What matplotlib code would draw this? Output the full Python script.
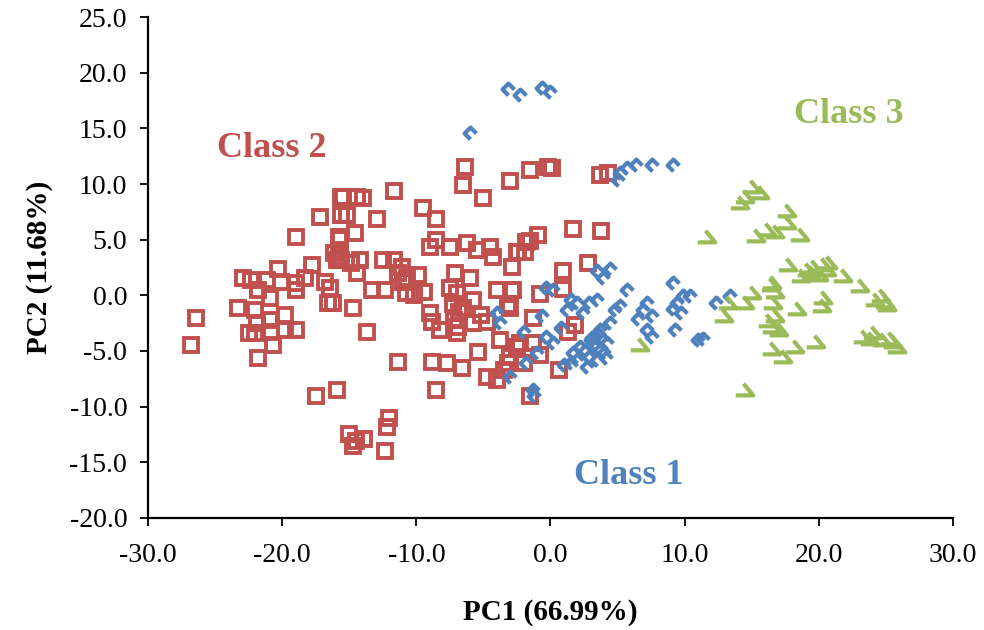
import numpy as np
import matplotlib
matplotlib.use("Agg")
import matplotlib.pyplot as plt
from matplotlib.path import Path
from matplotlib.markers import MarkerStyle

plt.rcParams["font.family"] = "serif"
plt.rcParams["font.serif"] = ["Liberation Serif", "DejaVu Serif"]

# ---- data ----
class2_x = [-15.6, -17.2, -19.0, -15.6, -15.7, -15.8, -17.8, -20.3, -22.9, -22.3,
            -21.8, -21.1, -20.1, -19.0, -19.0, -18.3, -16.8, -16.6, -23.3, -22.0,
            -20.9, -19.8, -20.9, -21.9, -22.5, -22.0, -20.8, -19.8, -19.0, -20.7,
            -21.8, -26.4, -26.8, -15.6, -16.1,
            -6.4, -6.5, -3.0, -1.5, -5.0, -11.7, -15.5, -14.4, -14.0, -15.2,
            -12.9, -9.5, -8.5, -15.8, -14.6, -15.7, -15.9, -14.9, -14.2, -14.4,
            -12.5, -11.7, -11.1, -11.4, -10.7, -9.9, -9.0, -8.5, -7.5, -6.2,
            -5.5, -4.5, -4.3, -2.9, -2.5, -1.8, -7.1, -6.0, -7.5, -7.0,
            -5.8, -4.0, -2.9, -3.0, -13.3, -12.3, -10.8, -9.4, -16.4, -16.2,
            -14.7, -9.0, -8.8, -8.2, -7.0, -5.8, -4.7, -6.5, -13.7, -11.4,
            -8.8, -7.7, -6.6, -5.4, -4.7, -3.2, -2.5, -4.0, -15.9, -8.5,
            -0.2, 0.1, 3.7, 4.3, 1.7, 3.8, -0.9, -1.5, -2.4, -1.9,
            2.8, 0.9, 0.9, -2.8, -0.8, -3.2, -1.3, 1.8, 1.3, -2.3,
            -1.3, -3.0, -2.0, -0.8, 0.6, -1.5, -3.5,
            -17.5, -15.0, -14.5, -13.9, -14.7, -12.0, -12.2, -12.3,
            -7.3, -6.8, -7.2, -6.9, -5.2, -3.8, -10.2, -11.0]
class2_y = [8.8, 7.0, 5.2, 7.2, 5.1, 3.4, 2.7, 2.4, 1.6, 1.4,
            0.5, 1.4, 1.2, 1.1, 0.5, 1.6, 1.2, -0.7, -1.1, -1.3,
            -0.2, -1.8, -2.2, -2.5, -3.4, -3.4, -3.3, -3.1, -3.1, -4.5,
            -5.6, -2.0, -4.5, 3.2, 3.8,
            11.5, 9.9, 10.3, 11.3, 8.7, 9.4, 8.8, 8.8, 8.7, 7.2,
            6.9, 7.8, 6.9, 5.2, 5.6, 4.1, 3.2, 2.9, 3.2, 2.0,
            3.2, 3.2, 2.5, 2.0, 1.6, 1.8, 4.3, 5.0, 4.3, 4.7,
            4.1, 4.3, 3.4, 2.5, 3.9, 4.8, 2.0, 1.6, 0.7, 0.2,
            -0.4, 0.5, 0.5, -1.1, 0.5, 0.5, 0.2, 0.3, 0.7, -0.7,
            -1.1, -1.6, -2.4, -3.1, -3.4, -2.5, -2.4, -1.1, -3.3, -6.0,
            -6.0, -6.1, -6.5, -5.1, -7.3, -6.1, -4.6, -7.6, -8.5, -8.5,
            11.5, 11.4, 10.8, 11.0, 6.0, 5.8, 5.4, 4.9, 3.9, 3.9,
            2.9, 2.2, 0.6, 0.5, 0.1, -0.9, -2.0, -2.7, -3.3, -4.3,
            -4.3, -5.5, -6.1, -5.4, -6.7, -9.0, -6.7,
            -9.0, -12.5, -13.1, -12.9, -13.5, -11.0, -11.8, -14.0,
            -0.8, -1.5, -2.2, -2.8, -1.8, -4.0, 0.0, 1.2]

class1_x = [-3.2, -2.3, -0.6, 0.0, -6.0, 5.2, 5.7, 6.4, 7.6, 9.1,
            5.0, 3.5, 4.4, 3.9, 9.1, 9.9, 9.4, 9.1, 9.7, 9.3,
            11.0, 5.7, 7.2, 6.9, 7.6, 6.5, 7.2, 7.6, 4.8, 5.2,
            4.4, 3.7, 3.2, 3.7, 2.9, 3.5, 2.7, 4.2, 2.2, 2.0,
            3.5, 2.9, 1.5, 2.0, 1.2, 2.4, -0.3, 0.2, -0.6, -0.3,
            0.2, -1.0, -1.8, 1.5, 1.7, -1.3, -1.2, -4.0, -3.8, -3.0,
            10.4, 12.3, 13.4, 11.4, 3.0, 3.3, 4.0, 3.6, 2.6, 3.9,
            0.8, -2.0, 1.0, 4.1, 3.1]
class1_y = [18.5, 18.0, 18.6, 18.3, 14.6, 11.0, 11.4, 11.7, 11.7, 11.7,
            10.4, 2.2, 2.4, 1.6, 1.1, -0.1, -0.7, -1.2, -1.6, -3.1,
            -4.0, 0.5, -0.7, -1.3, -1.9, -2.1, -3.1, -3.7, -1.3, -1.0,
            -2.5, -3.1, -4.3, -4.9, -5.5, -5.8, -6.4, -4.3, -4.6, -5.8,
            -0.4, -0.7, -0.4, -0.7, -1.3, -1.6, 0.7, 0.5, -1.9, -3.7,
            -4.3, -5.2, -6.1, -6.1, -5.2, -8.5, -9.0, -1.6, -2.5, -7.3,
            -0.1, -0.7, -0.1, -3.9, -4.0, -4.6, -5.2, -3.6, -5.0, -4.0,
            -2.9, -3.3, -6.3, -5.6, -3.8]

class3_x = [15.0, 14.5, 14.1, 15.6, 17.6, 17.6, 16.1, 16.7, 18.6, 11.7,
            17.7, 19.1, 19.6, 20.3, 20.7, 18.7, 21.8, 23.1, 24.6, 24.9,
            16.5, 16.7, 15.0, 14.5, 13.2, 12.9, 16.6, 16.7, 16.5, 17.0,
            18.4, 20.3, 20.2, 19.8, 16.5, 17.3, 18.2, 23.3, 23.8, 24.7,
            25.3, 25.8, 14.5, 6.7, 19.4, 20.0, 16.2, 24.2, 25.5, 16.4,
            15.3, 24.0, 25.1, 20.6]
class3_y = [9.7, 8.8, 8.3, 9.2, 7.6, 6.5, 5.9, 5.7, 5.4, 5.2,
            2.7, 2.3, 2.5, 2.7, 2.9, 1.7, 1.7, 0.8, -0.1, -0.6,
            1.1, 0.3, 0.2, -0.7, -0.7, -1.9, -0.7, -1.9, -2.8, -3.1,
            -1.2, -0.2, -1.0, -4.2, -4.8, -5.5, -4.6, -3.7, -3.9, -4.0,
            -3.9, -4.6, -8.5, -4.5, 2.0, 1.8, -2.3, -0.4, -4.2, 0.9,
            5.3, -3.4, -0.9, 2.3]

RED = "#C0504D"
BLUE = "#4F81BD"
GREEN = "#9BBB59"

# open diamond missing its lower-right edge, and the green "check" glyph
diamond_path = Path([(1, 0), (0, 1), (-1, 0), (0, -1)])
check_path = Path([(-0.1, 0.35), (0.4, -0.25), (-0.5, -0.25)])

fig = plt.figure(figsize=(9.84, 6.3), dpi=100)
ax = fig.add_axes([0.1504, 0.1778, 0.8181, 0.7952])

ax.plot(class2_x, class2_y, linestyle="none", marker="s", markersize=10,
        mfc="none", mec=RED, mew=2.8)
ax.plot(class1_x, class1_y, linestyle="none", marker=MarkerStyle(diamond_path),
        markersize=8.5, mfc="none", mec=BLUE, mew=3.0)
ax.plot(class3_x, class3_y, linestyle="none", marker=MarkerStyle(check_path),
        markersize=14, mfc="none", mec=GREEN, mew=3.0)

ax.text(-20.8, 13.2, "Class 2", color=RED, fontsize=26, fontweight="bold",
        ha="center", va="center")
ax.text(22.2, 16.2, "Class 3", color=GREEN, fontsize=26, fontweight="bold",
        ha="center", va="center")
ax.text(5.8, -16.2, "Class 1", color=BLUE, fontsize=26, fontweight="bold",
        ha="center", va="center")

ax.set_xlim(-30, 30)
ax.set_ylim(-20, 25)
ax.set_xticks(np.arange(-30, 31, 10))
ax.set_yticks(np.arange(-20, 26, 5))
ax.set_xticklabels([f"{v:.1f}" for v in np.arange(-30, 31, 10)])
ax.set_yticklabels([f"{v:.1f}" for v in np.arange(-20, 26, 5)])
ax.tick_params(direction="out", length=6, width=1.3, labelsize=20)
ax.tick_params(axis="x", pad=12)
ax.tick_params(axis="y", pad=9)

for s in ["top", "right"]:
    ax.spines[s].set_visible(False)
for s in ["left", "bottom"]:
    ax.spines[s].set_linewidth(1.6)

ax.set_xlabel("PC1 (66.99%)", fontsize=21, fontweight="bold", labelpad=22)
ax.set_ylabel("PC2 (11.68%)", fontsize=21, fontweight="bold", labelpad=12)

fig.savefig("out.png", dpi=100)
